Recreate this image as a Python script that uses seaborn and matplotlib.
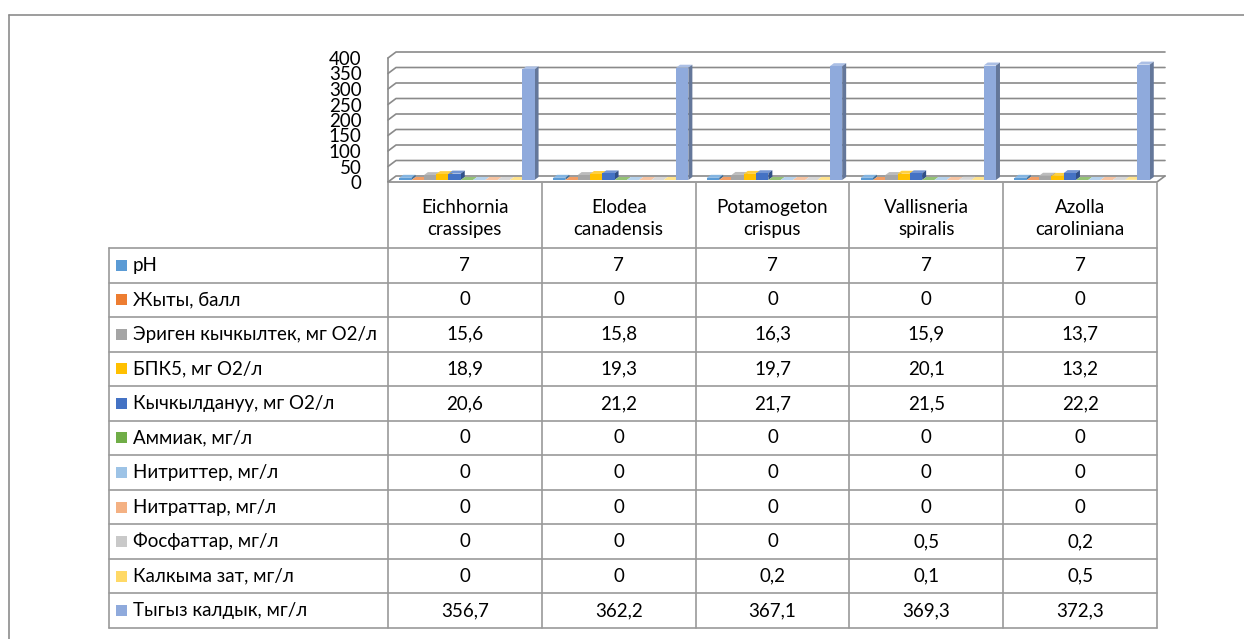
import numpy as np
import pandas as pd
import matplotlib
matplotlib.use('Agg')
import matplotlib.pyplot as plt
import seaborn as sns
from matplotlib.patches import Polygon, Rectangle
from matplotlib.lines import Line2D
from matplotlib.colors import to_rgb

# Data
species = ['Eichhornia\ncrassipes', 'Elodea\ncanadensis', 'Potamogeton\ncrispus',
           'Vallisneria\nspiralis', 'Azolla\ncaroliniana']
params = ['pH', 'Жыты, балл', 'Эриген кычкылтек, мг O2/л', 'БПК5, мг O2/л',
          'Кычкылдануу, мг O2/л', 'Аммиак, мг/л', 'Нитриттер, мг/л', 'Нитраттар, мг/л',
          'Фосфаттар, мг/л', 'Калкыма зат, мг/л', 'Тыгыз калдык, мг/л']
ph = [7, 7, 7, 7, 7]
zhyty = [0, 0, 0, 0, 0]
erigen = [15.6, 15.8, 16.3, 15.9, 13.7]
bpk5 = [18.9, 19.3, 19.7, 20.1, 13.2]
kychkyl = [20.6, 21.2, 21.7, 21.5, 22.2]
ammiak = [0, 0, 0, 0, 0]
nitrit = [0, 0, 0, 0, 0]
nitrat = [0, 0, 0, 0, 0]
fosfat = [0, 0, 0, 0.5, 0.2]
kalkyma = [0, 0, 0.2, 0.1, 0.5]
tygyz = [356.7, 362.2, 367.1, 369.3, 372.3]
yticks = [0, 50, 100, 150, 200, 250, 300, 350, 400]

colors = ['#5B9BD5', '#ED7D31', '#A5A5A5', '#FFC000', '#4472C4', '#70AD47',
          '#9DC3E6', '#F4B183', '#C9C9C9', '#FFD966', '#8FAADC']

series = [ph, zhyty, erigen, bpk5, kychkyl, ammiak, nitrit, nitrat, fosfat, kalkyma, tygyz]
rows = []
for p, vals in zip(params, series):
    for s, v in zip(species, vals):
        rows.append({'species': s, 'param': p, 'value': v})
df = pd.DataFrame(rows)

sns.set_theme(style='white')
plt.rcParams['font.family'] = ['Lato', 'DejaVu Sans']
FS = 13.5

W, H = 1244, 639
fig = plt.figure(figsize=(W / 100, H / 100), dpi=100)

# chart area (front plane), pixel geometry of the reference
x_l, x_r, y_0, y_400 = 388, 1157, 182, 58
ax = fig.add_axes([x_l / W, (H - y_0) / H, (x_r - x_l) / W, (y_0 - y_400) / H])
sns.barplot(data=df, x='species', y='value', hue='param', order=species, hue_order=params,
            palette=colors, width=0.88, gap=0, saturation=1, legend=False,
            errorbar=None, edgecolor='none', ax=ax)
ax.set_xlim(-0.5, 4.5)
ax.set_ylim(0, 400)
ax.set_yticks(yticks)
ax.set_xticks([])
ax.set_xlabel('')
ax.set_ylabel('')
ax.tick_params(axis='y', length=0, pad=19, labelsize=13.5, colors='black')
for sp in ax.spines.values():
    sp.set_visible(False)

# pixel -> data conversions
sx = (x_r - x_l) / 5.0
sy = (y_0 - y_400) / 400.0

# back wall + side wall grid
wdx, wdy = 8 / sx, 6 / sy
gcol = '#8a8a8a'
for v in yticks:
    ax.plot([-0.5, -0.5 + wdx, 4.5 + wdx], [v, v + wdy, v + wdy], color=gcol,
            lw=1.2, clip_on=False, zorder=1)
ax.plot([-0.5, -0.5], [0, 400], color=gcol, lw=1.2, clip_on=False, zorder=1)
ax.plot([-0.5, 4.5, 4.5 + wdx], [0, 0, wdy], color=gcol, lw=1.2, clip_on=False, zorder=1)

# 3D look for the bars
bdx, bdy = 4 / sx, 3 / sy
offx, offy = 2 / sx, 2 / sy
bars = [p for p in ax.patches if isinstance(p, Rectangle)]
for p in bars:
    x0, w, h = p.get_x() + offx, p.get_width(), p.get_height()
    y0 = offy
    x1, y1 = x0 + w, y0 + h
    c = np.array(to_rgb(p.get_facecolor()))
    side = c * 0.7
    top = c + (1 - c) * 0.25
    ax.add_patch(Polygon([(x0, y1), (x1, y1), (x1 + bdx, y1 + bdy), (x0 + bdx, y1 + bdy)],
                         closed=True, facecolor=top, edgecolor='none', zorder=2, clip_on=False))
    ax.add_patch(Polygon([(x1, y0), (x1 + bdx, y0 + bdy), (x1 + bdx, y1 + bdy), (x1, y1)],
                         closed=True, facecolor=side, edgecolor='none', zorder=2, clip_on=False))
    p.set_x(x0)
    p.set_y(y0)
    p.set_zorder(3)
    p.set_clip_on(False)

# data table below the chart
t_l, t_t, t_b = 109, 183, 628
hdr_b = 248
tax = fig.add_axes([t_l / W, (H - t_b) / H, (x_r - t_l) / W, (t_b - t_t) / H])
tax.set_xlim(t_l, x_r)
tax.set_ylim(t_b, t_t)
tax.axis('off')
lcol = '#9a9a9a'
col_w = (x_r - x_l) / len(species)
row_h = (t_b - hdr_b) / len(params)
for k in range(len(params) + 1):
    yy = hdr_b + k * row_h
    tax.plot([t_l, x_r], [yy, yy], color=lcol, lw=1.2, clip_on=False)
tax.plot([t_l, t_l], [hdr_b, t_b], color=lcol, lw=1.2, clip_on=False)
for j in range(len(species) + 1):
    xx = x_l + j * col_w
    tax.plot([xx, xx], [t_t, t_b], color=lcol, lw=1.2, clip_on=False)

for j, s in enumerate(species):
    tax.text(x_l + (j + 0.5) * col_w, (t_t + hdr_b) / 2 + 3, s, ha='center', va='center',
             fontsize=FS, linespacing=1.4, color='black')

def fmt(v):
    return ('%g' % v).replace('.', ',')

for i, (p, vals, c) in enumerate(zip(params, series, colors)):
    yc = hdr_b + (i + 0.5) * row_h
    tax.add_patch(Rectangle((116, yc - 5.5), 11, 11, facecolor=c, edgecolor='none'))
    tax.text(133, yc, p, ha='left', va='center', fontsize=FS, color='black')
    for j, v in enumerate(vals):
        tax.text(x_l + (j + 0.5) * col_w, yc, fmt(v), ha='center', va='center',
                 fontsize=FS, color='black')

# outer frame of the embedded chart
fig.add_artist(Line2D([8.5 / W, 8.5 / W], [0, 1 - 14.5 / H], color='#8c8c8c', lw=1.2))
fig.add_artist(Line2D([8.5 / W, 1], [1 - 14.5 / H, 1 - 14.5 / H], color='#8c8c8c', lw=1.2))

fig.savefig('out.png', dpi=100, facecolor='white')
